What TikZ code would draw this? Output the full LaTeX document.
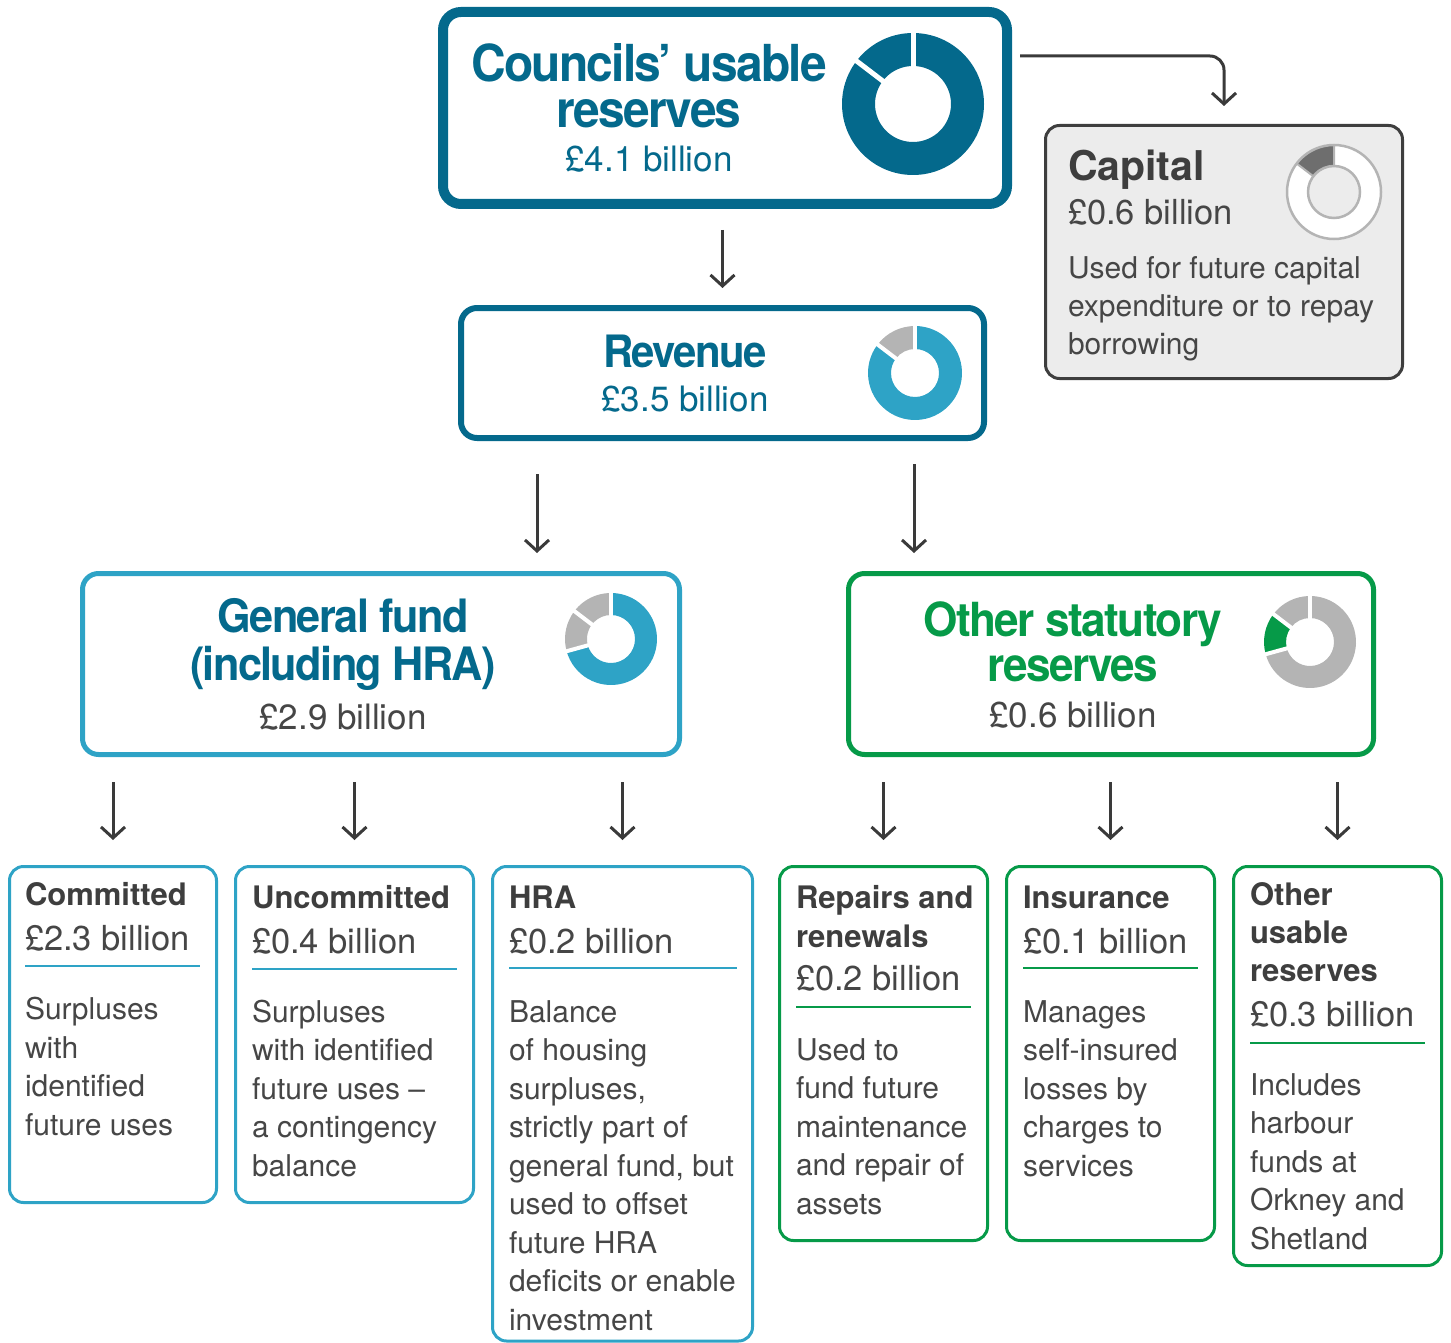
\documentclass[tikz,border=0pt]{standalone}
\usepackage{fontspec}
\setmainfont{TeX Gyre Heros}
\newfontfamily\hfont[FakeStretch=0.94, LetterSpace=-3.5]{TeX Gyre Heros}
\usetikzlibrary{arrows.meta,calc}
\definecolor{cteal}{RGB}{4,105,140}
\definecolor{cblue}{RGB}{46,163,198}
\definecolor{cgreen}{RGB}{6,154,72}
\definecolor{cgrey}{RGB}{180,180,180}
\definecolor{ctext}{RGB}{62,62,62}
\definecolor{cbody}{RGB}{70,70,70}
\definecolor{cfill}{RGB}{236,236,236}
\definecolor{cdark}{RGB}{62,62,62}
\definecolor{cslice}{RGB}{110,110,110}
\definecolor{carrow}{RGB}{58,58,58}
\newcommand\dseg[7]{\fill[#1] ($(#2,#3)+(#6:#4)$) arc[start angle=#6,end angle=#7,radius=#4] -- ($(#2,#3)+(#7:#5)$) arc[start angle=#7,end angle=#6,radius=#5] -- cycle;}
\newcommand\dgap[5]{\draw[white,line width=#5] (#1,#2) -- ($(#1,#2)+(#3:#4)$);}
\tikzset{
  box/.style={draw, rounded corners=#1, outer sep=0pt, inner sep=0pt},
  small/.style={box=14pt, line width=3pt, fill=white},
  arr/.style={draw=carrow, line width=3pt, -{Straight Barb[length=11pt,width=24pt]}},
  lt/.style={anchor=base west, inner sep=0pt, outer sep=0pt, text=ctext},
  ct/.style={anchor=base, inner sep=0pt, outer sep=0pt},
  ttl/.style={lt, font=\fontsize{31}{38.5}\selectfont\bfseries},
  amt/.style={lt, text=cbody, font=\fontsize{34.5}{40}\selectfont},
  body/.style={lt, text=cbody, font=\fontsize{30}{38.5}\selectfont},
  sep/.style={line width=2pt}
}
\begin{document}
\begin{tikzpicture}[x=1pt,y=1pt]
\useasboundingbox (0,0) rectangle (1451,-1343);
% main boxes
\node[box=18pt, draw=cteal, line width=10pt, minimum width=564pt, minimum height=192pt] (councils) at (725,-108) {};
\node[box=14pt, draw=cdark, fill=cfill, line width=3pt, minimum width=357pt, minimum height=253pt] (capital) at (1224,-252) {};
\node[box=16pt, draw=cteal, line width=6pt, minimum width=523pt, minimum height=130pt] (revenue) at (722.5,-373) {};
\node[box=16pt, draw=cblue, line width=5pt, minimum width=597pt, minimum height=181pt] (gf) at (381,-664) {};
\node[box=16pt, draw=cgreen, line width=5pt, minimum width=525pt, minimum height=181pt] (os) at (1111,-664) {};
% bottom boxes
\node[small, draw=cblue, minimum width=207pt, minimum height=336pt] (committed) at (113,-1034.5) {};
\node[small, draw=cblue, minimum width=238pt, minimum height=336pt] (uncommitted) at (354.5,-1034.5) {};
\node[small, draw=cblue, minimum width=260pt, minimum height=474.5pt] (hra) at (622.5,-1103.75) {};
\node[small, draw=cgreen, minimum width=208pt, minimum height=374pt] (repairs) at (883.5,-1053.5) {};
\node[small, draw=cgreen, minimum width=208pt, minimum height=374pt] (insurance) at (1110.5,-1053.5) {};
\node[small, draw=cgreen, minimum width=208pt, minimum height=399pt] (other) at (1337.5,-1066) {};
% connectors
\coordinate (cstart) at (1020,-56);
\coordinate (rl) at (537,0);
\coordinate (rr) at (914,0);
\draw[arr, shorten <=26pt, shorten >=20pt] (councils.south -| revenue.north) -- (revenue.north);
\draw[arr, rounded corners=14pt, shorten >=19.5pt] (cstart) -- (cstart -| capital.north) -- (capital.north);
\draw[arr, shorten <=36pt, shorten >=20.5pt] (revenue.south -| rl) -- (gf.north -| rl);
\draw[arr, shorten <=26pt, shorten >=20.5pt] (revenue.south -| rr) -- (os.north -| rr);
\foreach \c in {committed,uncommitted,hra}
  \draw[arr, shorten <=27.5pt, shorten >=26.5pt] (gf.south -| \c.north) -- (\c.north);
\foreach \c in {repairs,insurance,other}
  \draw[arr, shorten <=27.5pt, shorten >=26.5pt] (os.south -| \c.north) -- (\c.north);
% donuts
\dseg{cteal}{913}{-104}{71}{38}{90}{450}
\dgap{913}{-104}{90}{74}{5pt}\dgap{913}{-104}{142.7}{74}{5pt}
\dseg{cgrey}{915}{-373}{47}{24}{90}{142.7}
\dseg{cblue}{915}{-373}{47}{24}{142.7}{450}
\dgap{915}{-373}{90}{49}{4pt}\dgap{915}{-373}{142.7}{49}{4pt}
\dseg{cgrey}{611}{-639}{46}{24}{90}{195.4}
\dseg{cblue}{611}{-639}{46}{24}{195.4}{450}
\dgap{611}{-639}{90}{48}{4pt}\dgap{611}{-639}{142.7}{48}{4pt}\dgap{611}{-639}{195.4}{48}{4pt}
\dseg{cgrey}{1310}{-642}{46}{24}{90}{142.7}
\dseg{cgreen}{1310}{-642}{46}{24}{142.7}{195.4}
\dseg{cgrey}{1310}{-642}{46}{24}{195.4}{450}
\dgap{1310}{-642}{90}{48}{4pt}\dgap{1310}{-642}{142.7}{48}{4pt}\dgap{1310}{-642}{195.4}{48}{4pt}
\dseg{white}{1334}{-192}{47}{26}{0}{360}
\dseg{cslice}{1334}{-192}{47}{26}{90}{142.7}
\draw[cgrey, line width=2.5pt] (1334,-192) circle[radius=47] (1334,-192) circle[radius=26];
\draw[cgrey, line width=2pt] ($(1334,-192)+(90:26)$) -- ($(1334,-192)+(90:47)$) ($(1334,-192)+(142.7:26)$) -- ($(1334,-192)+(142.7:47)$);
% main texts
\node[ct, text=cteal, font=\fontsize{51}{46}\hfont\bfseries] (t-c1) at (649,-82) {Councils’ usable};
\node[ct, text=cteal, font=\fontsize{51}{46}\hfont\bfseries] (t-c1b) at (649,-128) {reserves};
\node[ct, text=cteal, font=\fontsize{35}{40}\selectfont] (t-c2) at (649,-172) {£4.1 billion};
\node[ct, text=cteal, font=\fontsize{44.6}{45}\hfont\bfseries] (t-r1) at (685,-367) {Revenue};
\node[ct, text=cteal, font=\fontsize{35}{40}\selectfont] (t-r2) at (685,-411) {£3.5 billion};
\node[ct, text=cteal, font=\fontsize{46}{48}\hfont\bfseries] (t-g1) at (343,-632) {General fund};
\node[ct, text=cteal, font=\fontsize{46}{48}\hfont\bfseries] (t-g1b) at (343,-680) {(including HRA)};
\node[ct, text=cbody, font=\fontsize{35}{40}\selectfont] (t-g2) at (343,-729) {£2.9 billion};
\node[ct, text=cgreen, font=\fontsize{47}{45}\hfont\bfseries] (t-o1) at (1073,-636) {Other statutory};
\node[ct, text=cgreen, font=\fontsize{47}{45}\hfont\bfseries] (t-o1b) at (1073,-681) {reserves};
\node[ct, text=cbody, font=\fontsize{35}{40}\selectfont] (t-o2) at (1073,-727) {£0.6 billion};
% capital texts
\node[lt, font=\fontsize{41}{45}\selectfont\bfseries] (t-k1) at (1068,-181) {Capital};
\node[amt] (t-k2) at (1068,-225) {£0.6 billion};
\node[lt, text=cbody, font=\fontsize{30}{38}\selectfont] (t-k3) at (1068,-278) {\parbox[t]{340pt}{\raggedright Used for future capital\\expenditure or to repay\\borrowing}};
% committed
\node[ttl] (t-a1) at (25,-905.7) {Committed};
\node[amt] (t-a2) at (25,-950.7) {£2.3 billion};
\draw[cblue, sep] (25,-966) -- (200,-966);
\node[body] (t-a3) at (25,-1019.5) {\parbox[t]{190pt}{\raggedright Surpluses\\with\\identified\\future uses}};
% uncommitted
\node[ttl] (t-b1) at (252,-908) {Uncommitted};
\node[amt] (t-b2) at (252,-953) {£0.4 billion};
\draw[cblue, sep] (252,-969) -- (457,-969);
\node[body] (t-b3) at (252,-1022) {\parbox[t]{220pt}{\raggedright Surpluses\\with identified\\future uses –\\a contingency\\balance}};
% HRA
\node[ttl] (t-h1) at (509,-908) {HRA};
\node[amt] (t-h2) at (509,-953) {£0.2 billion};
\draw[cblue, sep] (509,-968) -- (737,-968);
\node[body] (t-h3) at (509,-1022) {\parbox[t]{240pt}{\raggedright Balance\\of housing\\surpluses,\\strictly part of\\general fund, but\\used to offset\\future HRA\\deficits or enable\\investment}};
% repairs
\node[ttl, font=\fontsize{31}{39}\selectfont\bfseries] (t-p1) at (796,-908) {\parbox[t]{200pt}{\raggedright Repairs and\\renewals}};
\node[amt] (t-p2) at (796,-990) {£0.2 billion};
\draw[cgreen, sep] (796,-1007) -- (971,-1007);
\node[body] (t-p3) at (796,-1060) {\parbox[t]{200pt}{\raggedright Used to\\fund future\\maintenance\\and repair of\\assets}};
% insurance
\node[ttl] (t-i1) at (1023,-908) {Insurance};
\node[amt] (t-i2) at (1023,-953) {£0.1 billion};
\draw[cgreen, sep] (1023,-968) -- (1198,-968);
\node[body] (t-i3) at (1023,-1022) {\parbox[t]{200pt}{\raggedright Manages\\self-insured\\losses by\\charges to\\services}};
% other
\node[ttl, font=\fontsize{31}{38}\selectfont\bfseries] (t-u1) at (1250,-905) {\parbox[t]{200pt}{\raggedright Other\\usable\\reserves}};
\node[amt] (t-u2) at (1250,-1026) {£0.3 billion};
\draw[cgreen, sep] (1250,-1043) -- (1425,-1043);
\node[body] (t-u3) at (1250,-1095) {\parbox[t]{200pt}{\raggedright Includes\\harbour\\funds at\\Orkney and\\Shetland}};
\end{tikzpicture}
\end{document}
